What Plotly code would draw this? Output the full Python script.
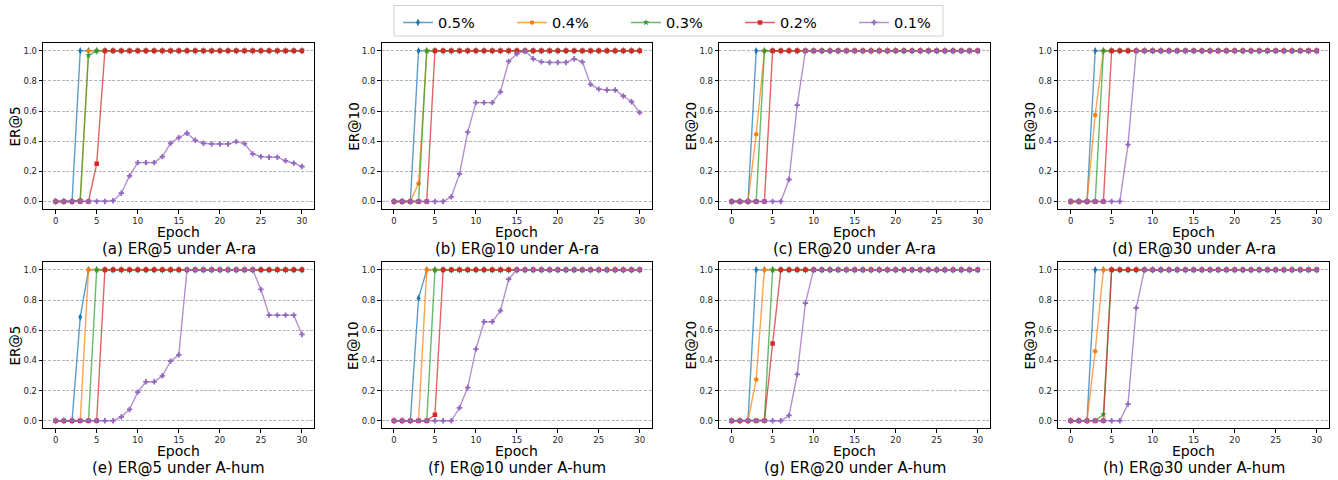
import plotly.graph_objects as go

# ---------------- data ----------------
epochs = list(range(31))
series_labels = ["0.5%", "0.4%", "0.3%", "0.2%", "0.1%"]
metric_labels = ["ER@5", "ER@10", "ER@20", "ER@30", "ER@5", "ER@10", "ER@20", "ER@30"]
panel_titles = ["(a) ER@5 under A-ra", "(b) ER@10 under A-ra", "(c) ER@20 under A-ra",
                "(d) ER@30 under A-ra", "(e) ER@5 under A-hum", "(f) ER@10 under A-hum",
                "(g) ER@20 under A-hum", "(h) ER@30 under A-hum"]
x_ticks = [0, 5, 10, 15, 20, 25, 30]
y_ticks = [0.0, 0.2, 0.4, 0.6, 0.8, 1.0]
y_tick_text = ["0.0", "0.2", "0.4", "0.6", "0.8", "1.0"]

# (a) ER@5 under A-ra
a_05 = [0, 0, 0, 1, 1, 1, 1, 1, 1, 1,  1, 1, 1, 1, 1, 1, 1, 1, 1, 1,  1, 1, 1, 1, 1, 1, 1, 1, 1, 1,  1]
a_04 = [0, 0, 0, 0.01, 1, 1, 1, 1, 1, 1,  1, 1, 1, 1, 1, 1, 1, 1, 1, 1,  1, 1, 1, 1, 1, 1, 1, 1, 1, 1,  1]
a_03 = [0, 0, 0, 0.01, 0.97, 1, 1, 1, 1, 1,  1, 1, 1, 1, 1, 1, 1, 1, 1, 1,  1, 1, 1, 1, 1, 1, 1, 1, 1, 1,  1]
a_02 = [0, 0, 0, 0, 0, 0.25, 1, 1, 1, 1,  1, 1, 1, 1, 1, 1, 1, 1, 1, 1,  1, 1, 1, 1, 1, 1, 1, 1, 1, 1,  1]
a_01 = [0, 0, 0, 0, 0, 0, 0, 0.005, 0.055, 0.17,  0.258, 0.258, 0.258, 0.298, 0.386, 0.424, 0.453, 0.406, 0.386, 0.382,
        0.382, 0.382, 0.397, 0.384, 0.316, 0.298, 0.294, 0.294, 0.27, 0.254,  0.232]

# (b) ER@10 under A-ra
b_05 = [0, 0, 0, 1, 1, 1, 1, 1, 1, 1,  1, 1, 1, 1, 1, 1, 1, 1, 1, 1,  1, 1, 1, 1, 1, 1, 1, 1, 1, 1,  1]
b_04 = [0, 0, 0, 0.12, 1, 1, 1, 1, 1, 1,  1, 1, 1, 1, 1, 1, 1, 1, 1, 1,  1, 1, 1, 1, 1, 1, 1, 1, 1, 1,  1]
b_03 = [0, 0, 0, 0, 1, 1, 1, 1, 1, 1,  1, 1, 1, 1, 1, 1, 1, 1, 1, 1,  1, 1, 1, 1, 1, 1, 1, 1, 1, 1,  1]
b_02 = [0, 0, 0, 0, 0, 1, 1, 1, 1, 1,  1, 1, 1, 1, 1, 1, 1, 1, 1, 1,  1, 1, 1, 1, 1, 1, 1, 1, 1, 1,  1]
b_01 = [0, 0, 0, 0, 0, 0, 0, 0.031, 0.183, 0.46,  0.656, 0.656, 0.656, 0.728, 0.93, 0.98, 1.0, 0.947, 0.927, 0.923,
        0.923, 0.923, 0.947, 0.927, 0.777, 0.746, 0.74, 0.74, 0.70, 0.662,  0.59]

# (c) ER@20 under A-ra
c_05 = [0, 0, 0, 1, 1, 1, 1, 1, 1, 1,  1, 1, 1, 1, 1, 1, 1, 1, 1, 1,  1, 1, 1, 1, 1, 1, 1, 1, 1, 1,  1]
c_04 = [0, 0, 0, 0.446, 1, 1, 1, 1, 1, 1,  1, 1, 1, 1, 1, 1, 1, 1, 1, 1,  1, 1, 1, 1, 1, 1, 1, 1, 1, 1,  1]
c_03 = [0, 0, 0, 0, 1, 1, 1, 1, 1, 1,  1, 1, 1, 1, 1, 1, 1, 1, 1, 1,  1, 1, 1, 1, 1, 1, 1, 1, 1, 1,  1]
c_02 = [0, 0, 0, 0, 0, 1, 1, 1, 1, 1,  1, 1, 1, 1, 1, 1, 1, 1, 1, 1,  1, 1, 1, 1, 1, 1, 1, 1, 1, 1,  1]
c_01 = [0, 0, 0, 0, 0, 0, 0, 0.146, 0.64, 1,  1, 1, 1, 1, 1, 1, 1, 1, 1, 1,  1, 1, 1, 1, 1, 1, 1, 1, 1, 1,  1]

# (d) ER@30 under A-ra
d_05 = [0, 0, 0, 1, 1, 1, 1, 1, 1, 1,  1, 1, 1, 1, 1, 1, 1, 1, 1, 1,  1, 1, 1, 1, 1, 1, 1, 1, 1, 1,  1]
d_04 = [0, 0, 0, 0.574, 1, 1, 1, 1, 1, 1,  1, 1, 1, 1, 1, 1, 1, 1, 1, 1,  1, 1, 1, 1, 1, 1, 1, 1, 1, 1,  1]
d_03 = [0, 0, 0, 0, 1, 1, 1, 1, 1, 1,  1, 1, 1, 1, 1, 1, 1, 1, 1, 1,  1, 1, 1, 1, 1, 1, 1, 1, 1, 1,  1]
d_02 = [0, 0, 0, 0, 0, 1, 1, 1, 1, 1,  1, 1, 1, 1, 1, 1, 1, 1, 1, 1,  1, 1, 1, 1, 1, 1, 1, 1, 1, 1,  1]
d_01 = [0, 0, 0, 0, 0, 0, 0, 0.377, 1, 1,  1, 1, 1, 1, 1, 1, 1, 1, 1, 1,  1, 1, 1, 1, 1, 1, 1, 1, 1, 1,  1]

# (e) ER@5 under A-hum
e_05 = [0, 0, 0, 0.687, 1, 1, 1, 1, 1, 1,  1, 1, 1, 1, 1, 1, 1, 1, 1, 1,  1, 1, 1, 1, 1, 1, 1, 1, 1, 1,  1]
e_04 = [0, 0, 0, 0, 1, 1, 1, 1, 1, 1,  1, 1, 1, 1, 1, 1, 1, 1, 1, 1,  1, 1, 1, 1, 1, 1, 1, 1, 1, 1,  1]
e_03 = [0, 0, 0, 0, 0, 1, 1, 1, 1, 1,  1, 1, 1, 1, 1, 1, 1, 1, 1, 1,  1, 1, 1, 1, 1, 1, 1, 1, 1, 1,  1]
e_02 = [0, 0, 0, 0, 0, 0, 1, 1, 1, 1,  1, 1, 1, 1, 1, 1, 1, 1, 1, 1,  1, 1, 1, 1, 1, 1, 1, 1, 1, 1,  1]
e_01 = [0, 0, 0, 0, 0, 0, 0, 0, 0.026, 0.075,  0.19, 0.258, 0.258, 0.298, 0.395, 0.437, 1, 1, 1, 1,
        1, 1, 1, 1, 1, 0.87, 0.70, 0.70, 0.70, 0.70,  0.572]

# (f) ER@10 under A-hum
f_05 = [0, 0, 0, 0.812, 1, 1, 1, 1, 1, 1,  1, 1, 1, 1, 1, 1, 1, 1, 1, 1,  1, 1, 1, 1, 1, 1, 1, 1, 1, 1,  1]
f_04 = [0, 0, 0, 0, 1, 1, 1, 1, 1, 1,  1, 1, 1, 1, 1, 1, 1, 1, 1, 1,  1, 1, 1, 1, 1, 1, 1, 1, 1, 1,  1]
f_03 = [0, 0, 0, 0, 0, 1, 1, 1, 1, 1,  1, 1, 1, 1, 1, 1, 1, 1, 1, 1,  1, 1, 1, 1, 1, 1, 1, 1, 1, 1,  1]
f_02 = [0, 0, 0, 0, 0, 0.04, 1, 1, 1, 1,  1, 1, 1, 1, 1, 1, 1, 1, 1, 1,  1, 1, 1, 1, 1, 1, 1, 1, 1, 1,  1]
f_01 = [0, 0, 0, 0, 0, 0, 0, 0, 0.086, 0.22,  0.475, 0.656, 0.656, 0.73, 0.938, 1, 1, 1, 1, 1,
        1, 1, 1, 1, 1, 1, 1, 1, 1, 1,  1]

# (g) ER@20 under A-hum
g_05 = [0, 0, 0, 1, 1, 1, 1, 1, 1, 1,  1, 1, 1, 1, 1, 1, 1, 1, 1, 1,  1, 1, 1, 1, 1, 1, 1, 1, 1, 1,  1]
g_04 = [0, 0, 0, 0.274, 1, 1, 1, 1, 1, 1,  1, 1, 1, 1, 1, 1, 1, 1, 1, 1,  1, 1, 1, 1, 1, 1, 1, 1, 1, 1,  1]
g_03 = [0, 0, 0, 0, 0.005, 1, 1, 1, 1, 1,  1, 1, 1, 1, 1, 1, 1, 1, 1, 1,  1, 1, 1, 1, 1, 1, 1, 1, 1, 1,  1]
g_02 = [0, 0, 0, 0, 0, 0.512, 1, 1, 1, 1,  1, 1, 1, 1, 1, 1, 1, 1, 1, 1,  1, 1, 1, 1, 1, 1, 1, 1, 1, 1,  1]
g_01 = [0, 0, 0, 0, 0, 0, 0, 0.035, 0.307, 0.78,  1, 1, 1, 1, 1, 1, 1, 1, 1, 1,  1, 1, 1, 1, 1, 1, 1, 1, 1, 1,  1]

# (h) ER@30 under A-hum
h_05 = [0, 0, 0, 1, 1, 1, 1, 1, 1, 1,  1, 1, 1, 1, 1, 1, 1, 1, 1, 1,  1, 1, 1, 1, 1, 1, 1, 1, 1, 1,  1]
h_04 = [0, 0, 0, 0.461, 1, 1, 1, 1, 1, 1,  1, 1, 1, 1, 1, 1, 1, 1, 1, 1,  1, 1, 1, 1, 1, 1, 1, 1, 1, 1,  1]
h_03 = [0, 0, 0, 0, 0.042, 1, 1, 1, 1, 1,  1, 1, 1, 1, 1, 1, 1, 1, 1, 1,  1, 1, 1, 1, 1, 1, 1, 1, 1, 1,  1]
h_02 = [0, 0, 0, 0, 0, 1, 1, 1, 1, 1,  1, 1, 1, 1, 1, 1, 1, 1, 1, 1,  1, 1, 1, 1, 1, 1, 1, 1, 1, 1,  1]
h_01 = [0, 0, 0, 0, 0, 0, 0, 0.11, 0.748, 1,  1, 1, 1, 1, 1, 1, 1, 1, 1, 1,  1, 1, 1, 1, 1, 1, 1, 1, 1, 1,  1]

panels = [
    [a_05, a_04, a_03, a_02, a_01],
    [b_05, b_04, b_03, b_02, b_01],
    [c_05, c_04, c_03, c_02, c_01],
    [d_05, d_04, d_03, d_02, d_01],
    [e_05, e_04, e_03, e_02, e_01],
    [f_05, f_04, f_03, f_02, f_01],
    [g_05, g_04, g_03, g_02, g_01],
    [h_05, h_04, h_03, h_02, h_01],
]

# ---------------- styles ----------------
W, H = 1338, 480
FONT = "DejaVu Sans"
colors = ["31,119,180", "255,127,14", "44,160,44", "214,39,40", "148,103,189"]
symbols = ["diamond-tall", "circle", "star", "square", "cross"]
msizes = [5.5, 4.5, 5, 4.5, 4.5]

col_px = [(43.3, 314.3), (381.7, 652.0), (719.3, 990.0), (1058.3, 1329.0)]
row_px = [(43.3, 209.0), (262.3, 428.3)]

fig = go.Figure()
annotations = []

for i, panel in enumerate(panels):
    r, c = divmod(i, 4)
    ax = "" if i == 0 else str(i + 1)
    for k, series in enumerate(panel):
        fig.add_trace(go.Scatter(
            x=epochs, y=series, mode="lines+markers",
            name=series_labels[k], legendgroup=series_labels[k],
            showlegend=(i == 0),
            line=dict(color="rgba(%s,0.72)" % colors[k], width=1.4),
            marker=dict(color="rgb(%s)" % colors[k], symbol=symbols[k], size=msizes[k],
                        line=dict(width=0)),
            xaxis="x" + ax, yaxis="y" + ax,
        ))
    x0, x1 = col_px[c]
    y0, y1 = row_px[r]
    common = dict(showline=True, mirror=True, linecolor="black", linewidth=1.2,
                  ticks="outside", ticklen=3.5, tickwidth=0.8, tickcolor="black",
                  tickfont=dict(family=FONT, size=8.5, color="#262626"),
                  zeroline=False, fixedrange=True)
    fig.layout["xaxis" + ax] = dict(
        domain=[x0 / W, x1 / W], anchor="y" + ax, range=[-1.5, 31.5],
        tickvals=x_ticks, showgrid=False, **common)
    fig.layout["yaxis" + ax] = dict(
        domain=[1 - y1 / H, 1 - y0 / H], anchor="x" + ax, range=[-0.05, 1.05],
        tickvals=y_ticks, ticktext=y_tick_text, showgrid=True,
        gridcolor="#b4b4b4", gridwidth=0.8, griddash="3px,1.6px", **common)
    xd = "x" + ax + " domain"
    yd = "y" + ax + " domain"
    annotations.append(dict(text="Epoch", xref=xd, yref=yd, x=0.5, y=0,
                            yshift=-22.5, xanchor="center", yanchor="middle",
                            showarrow=False, font=dict(family=FONT, size=14, color="black")))
    annotations.append(dict(text=panel_titles[i], xref=xd, yref=yd, x=0.5, y=0,
                            yshift=-40, xanchor="center", yanchor="middle",
                            showarrow=False, font=dict(family=FONT, size=15, color="black")))
    annotations.append(dict(text=metric_labels[i], xref=xd, yref=yd, x=0, y=0.5,
                            xshift=-28, xanchor="center", yanchor="middle", textangle=-90,
                            showarrow=False, font=dict(family=FONT, size=13.5, color="black")))

fig.update_layout(
    width=W, height=H,
    margin=dict(l=0, r=0, t=0, b=0),
    paper_bgcolor="white", plot_bgcolor="white",
    annotations=annotations,
    showlegend=True,
    legend=dict(orientation="h", x=398 / W, xanchor="left", y=1 - 6.5 / H, yanchor="top",
                font=dict(family=FONT, size=14.5, color="black"),
                entrywidth=69, entrywidthmode="pixels",
                bgcolor="rgba(0,0,0,0)", borderwidth=0),
    shapes=[dict(type="rect", xref="paper", yref="paper",
                 x0=394 / W, x1=943 / W, y0=1 - 36 / H, y1=1 - 5.5 / H,
                 line=dict(color="#d0d0d0", width=1), fillcolor="rgba(255,255,255,0.8)",
                 layer="below")],
)

fig.write_html("out.html", config={"displayModeBar": False},
               post_script="document.body.style.margin='0px';document.body.style.overflow='hidden';")
